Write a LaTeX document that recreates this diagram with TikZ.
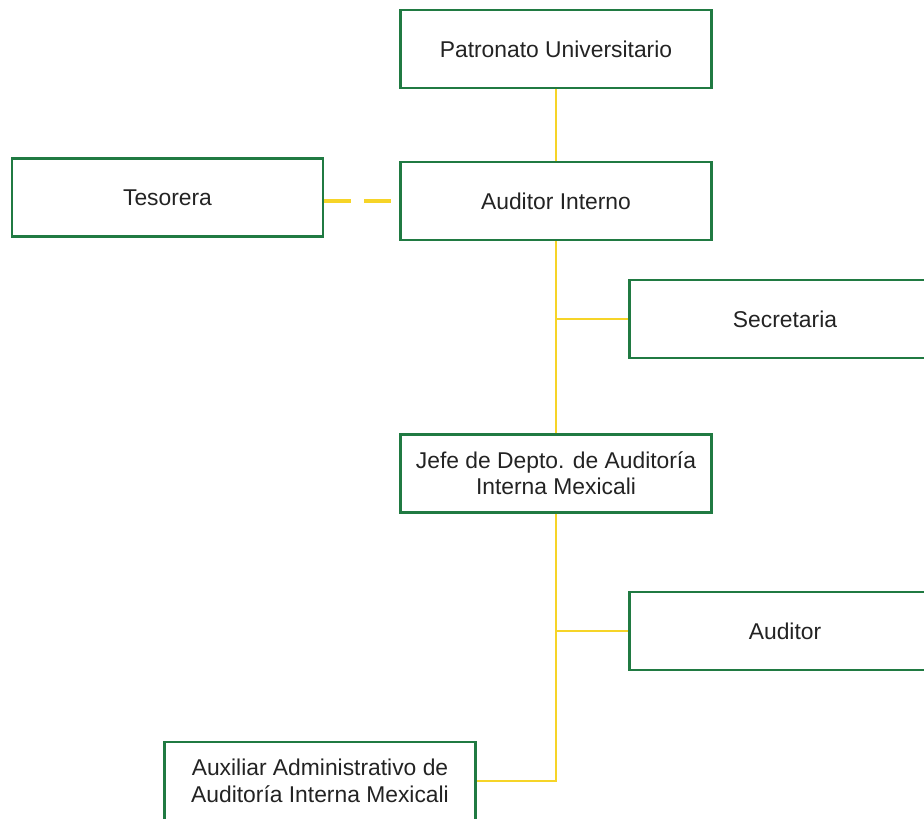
\documentclass[tikz,border=0pt]{standalone}
\usepackage{fontspec}
\setmainfont{Liberation Sans}
\definecolor{boxgreen}{RGB}{32,122,66}
\definecolor{lineyellow}{RGB}{246,212,40}
\definecolor{textgray}{RGB}{35,35,35}
\tikzset{
  puesto/.style={draw=boxgreen, line width=1.6pt, fill=white, text=textgray,
    minimum width=6.22cm, minimum height=1.56cm, align=center, inner sep=0pt,
    font=\fontsize{13}{15}\selectfont},
  liga/.style={draw=lineyellow, line width=1.2pt}
}
\begin{document}
\begin{tikzpicture}[x=0.02cm,y=-0.02cm]
\useasboundingbox (0,0) rectangle (924,819);

\node[puesto] (patronato) at (556,49) {Patronato Universitario};
\node[puesto] (tesorera) at (167.5,197.5) {Tesorera};
\node[puesto] (auditorint) at (556,201) {Auditor Interno};
\node[puesto] (secretaria) at (785,319) {Secretaria};
\node[puesto] (jefe) at (556,473.5) {Jefe de Depto. de Auditoría\\Interna Mexicali};
\node[puesto] (auditor) at (785,631) {Auditor};
\node[puesto] (auxiliar) at (320,781) {Auxiliar Administrativo de\\Auditoría Interna Mexicali};

%\draw[help lines] (0,0) grid (924,819);
\draw[liga] (patronato.south) -- (auditorint.north);
\draw[liga, line width=2.4pt, dash pattern=on 0.54cm off 0.26cm]
  (auditorint.west -| tesorera.east) -- (auditorint.west);
\draw[liga] (auditorint.south) -- (jefe.north);
\draw[liga] (secretaria.west) -- (secretaria.west -| auditorint.south);
\draw[liga] (auditor.west) -- (auditor.west -| jefe.south);
\draw[liga] (jefe.south) |- (auxiliar.east);
\end{tikzpicture}
\end{document}
